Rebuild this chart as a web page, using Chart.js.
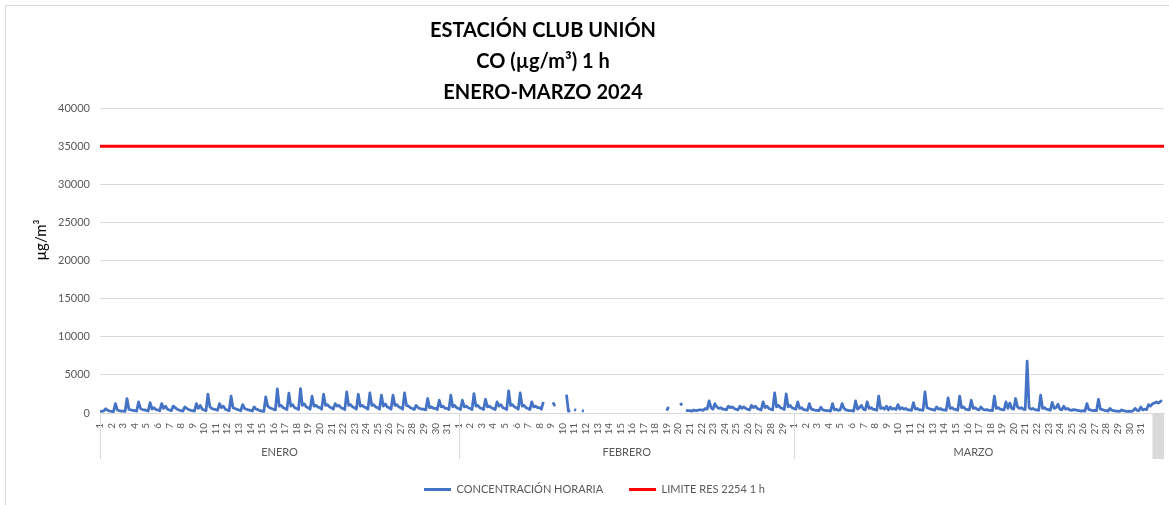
<!DOCTYPE html>
<html>
<head>
<meta charset="utf-8">
<script src="https://cdn.jsdelivr.net/npm/chart.js@4.4.1/dist/chart.umd.min.js"></script>
<style>
  html, body { margin: 0; padding: 0; background: #fff; }
</style>
</head>
<body>
<canvas id="grafico" width="1169" height="505"></canvas>
<script>
// --- TEXTOS ---
const TITULO = ['ESTACIÓN CLUB UNIÓN', 'CO (µg/m³) 1 h', 'ENERO-MARZO 2024'];
const TITULO_Y = 'µg/m³';
const MESES = ['ENERO', 'FEBRERO', 'MARZO'];
const DIAS_MES = [31, 29, 31];
const Y_TICKS = [0, 5000, 10000, 15000, 20000, 25000, 30000, 35000, 40000];
const LIMITE = 35000;

// lecturas cada 4 horas (0, 4, 8, 12, 16, 20 h) por dia
const HORAS = [0, 4, 8, 12, 16, 20];

const ENERO = [
  [250, 200, 300, 550, 350, 250],
  [200, 180, 1230, 400, 300, 250],
  [250, 200, 1900, 500, 400, 350],
  [300, 250, 1450, 600, 450, 400],
  [350, 250, 1360, 500, 700, 450],
  [400, 300, 1230, 600, 900, 500],
  [400, 300, 900, 700, 500, 400],
  [300, 250, 800, 600, 450, 350],
  [300, 250, 1230, 600, 1000, 500],
  [400, 300, 2460, 800, 600, 500],
  [450, 350, 1230, 700, 900, 500],
  [400, 300, 2200, 700, 600, 500],
  [400, 300, 1100, 600, 500, 400],
  [350, 250, 800, 500, 450, 300],
  [250, 200, 2110, 900, 700, 600],
  [500, 400, 3150, 900, 1000, 700],
  [600, 450, 2600, 900, 1100, 700],
  [600, 450, 3200, 1000, 1200, 800],
  [700, 500, 2200, 900, 1000, 800],
  [700, 500, 2460, 1000, 1100, 800],
  [700, 500, 1230, 900, 1000, 700],
  [600, 450, 2770, 1000, 1100, 800],
  [700, 500, 2460, 900, 1000, 800],
  [700, 500, 2640, 1000, 1100, 800],
  [700, 500, 2330, 900, 1200, 800],
  [700, 500, 2330, 1000, 1100, 800],
  [700, 500, 2640, 1000, 900, 700],
  [600, 450, 1000, 700, 600, 500],
  [500, 400, 1900, 700, 800, 600],
  [600, 450, 1670, 800, 900, 600],
  [600, 450, 2330, 800, 1000, 700]
];

const FEBRERO = [
  [600, 450, 1670, 800, 900, 700],
  [600, 450, 2550, 900, 1000, 700],
  [600, 450, 1800, 800, 900, 700],
  [600, 450, 1450, 900, 1100, 700],
  [600, 450, 2900, 1000, 1100, 800],
  [700, 500, 2640, 900, 1000, 700],
  [600, 450, 1450, 800, 900, 700],
  [700, 500, 1450, null, null, null],
  [null, 1400, 900, null, null, null],
  [null, null, 2420, 250, 300, null],
  [450, 350, null, null, 300, 250],
  [null, null, null, null, null, null],
  [null, null, null, null, null, null],
  [null, null, null, null, null, null],
  [null, null, null, null, null, null],
  [null, null, null, null, null, null],
  [null, null, null, null, null, null],
  [null, null, null, null, null, null],
  [300, 800, null, null, null, null],
  [null, 1300, 1000, null, 350, 300],
  [300, 250, 400, 300, 350, 400],
  [400, 350, 600, 500, 1600, 700],
  [500, 1230, 800, 600, 700, 500],
  [500, 400, 900, 700, 800, 600],
  [500, 400, 900, 600, 800, 600],
  [500, 400, 1000, 700, 900, 600],
  [500, 400, 1450, 700, 900, 600],
  [500, 400, 2640, 800, 1000, 700],
  [600, 450, 2500, 800, 1000, 700]
];

const MARZO = [
  [600, 500, 1450, 600, 700, 450],
  [400, 350, 1230, 500, 450, 350],
  [350, 300, 750, 400, 350, 300],
  [300, 250, 1230, 400, 500, 350],
  [400, 1230, 600, 400, 350, 300],
  [300, 250, 1580, 500, 700, 1000],
  [500, 400, 1450, 600, 700, 500],
  [450, 350, 2200, 600, 700, 500],
  [900, 400, 800, 500, 600, 450],
  [1100, 500, 700, 500, 600, 400],
  [400, 350, 1360, 500, 600, 400],
  [400, 350, 2770, 700, 600, 500],
  [450, 350, 800, 500, 600, 400],
  [400, 350, 1980, 600, 700, 500],
  [450, 350, 2200, 700, 800, 500],
  [450, 400, 1670, 600, 700, 500],
  [400, 800, 500, 400, 450, 350],
  [350, 300, 2200, 600, 700, 500],
  [450, 400, 1450, 600, 1300, 600],
  [500, 1900, 800, 600, 700, 500],
  [450, 6800, 700, 500, 600, 450],
  [400, 350, 2330, 600, 700, 500],
  [450, 350, 1400, 600, 700, 1140],
  [500, 400, 900, 500, 600, 400],
  [350, 440, 400, 350, 300, 250],
  [300, 250, 1230, 450, 400, 300],
  [350, 300, 1800, 500, 450, 350],
  [300, 250, 600, 350, 300, 250],
  [250, 200, 400, 300, 250, 200],
  [250, 200, 300, 600, 350, 300],
  [800, 400, 500, 450, 1100, 900]
];

// ultima fila de la hoja (despues del 31 de marzo)
const EXTRA = [
  [1200, 1300, 1450, 1300, 1500, 1650]
];

// --- ARMADO DE DATOS ---
const etiquetasDias = [];
DIAS_MES.forEach(n => { for (let d = 1; d <= n; d++) etiquetasDias.push(String(d)); });

const puntos = [];
let dia = 0;
[ENERO, FEBRERO, MARZO, EXTRA].forEach(mes => {
  mes.forEach(lecturas => {
    lecturas.forEach((v, i) => puntos.push({ x: dia + HORAS[i] / 24, y: v }));
    dia++;
  });
});
const totalDias = dia;
const diasConEtiqueta = etiquetasDias.length;

const FUENTE = "Lato, 'Open Sans', sans-serif";
const GRIS = '#d9d9d9';
const TEXTO = '#595959';

// borde, titulos y meses bajo el eje
const pluginExtras = {
  id: 'extras',
  beforeDraw(chart) {
    const ctx = chart.ctx;
    ctx.save();
    ctx.fillStyle = '#fff';
    ctx.fillRect(0, 0, chart.width, chart.height);
    ctx.strokeStyle = GRIS;
    ctx.lineWidth = 1;
    ctx.strokeRect(5.5, 5.5, chart.width + 20, chart.height + 20);
    ctx.restore();
  },
  afterDraw(chart) {
    const ctx = chart.ctx;
    const sx = chart.scales.x;
    const area = chart.chartArea;
    ctx.save();
    // titulo
    ctx.fillStyle = '#000';
    ctx.font = 'bold 20px ' + FUENTE;
    ctx.textAlign = 'center';
    ctx.textBaseline = 'middle';
    TITULO.forEach((t, i) => ctx.fillText(t, 543, 31 + i * 31));

    // titulo del eje y
    ctx.save();
    ctx.translate(41, 240);
    ctx.rotate(-Math.PI / 2);
    ctx.font = '15px ' + FUENTE;
    ctx.fillText(TITULO_Y, 0, 0);
    ctx.restore();

    // meses
    const y0 = area.bottom;
    const alto = 46;
    ctx.fillStyle = GRIS;
    const xa = sx.getPixelForValue(diasConEtiqueta);
    const xb = sx.getPixelForValue(totalDias);
    ctx.fillRect(xa, y0, xb - xa, alto);
    ctx.strokeStyle = GRIS;
    ctx.lineWidth = 1;
    ctx.font = '11px ' + FUENTE;
    ctx.fillStyle = TEXTO;
    let inicio = 0;
    MESES.forEach((mes, i) => {
      const x0 = Math.round(sx.getPixelForValue(inicio)) + 0.5;
      const x1 = sx.getPixelForValue(inicio + DIAS_MES[i]);
      ctx.beginPath();
      ctx.moveTo(x0, y0);
      ctx.lineTo(x0, y0 + alto);
      ctx.stroke();
      ctx.fillText(mes, (x0 + x1) / 2, y0 + 39);
      inicio += DIAS_MES[i];
    });
    ctx.restore();
  }
};

new Chart(document.getElementById('grafico'), {
  type: 'line',
  data: {
    datasets: [
      {
        label: 'CONCENTRACIÓN HORARIA',
        data: puntos,
        borderColor: '#4472C4',
        backgroundColor: '#4472C4',
        borderWidth: 2.75,
        pointRadius: 0,
        tension: 0,
        spanGaps: false,
        borderJoinStyle: 'round'
      },
      {
        label: 'LIMITE RES 2254 1 h',
        data: [{ x: 0, y: LIMITE }, { x: totalDias, y: LIMITE }],
        borderColor: '#FF0000',
        backgroundColor: '#FF0000',
        borderWidth: 3,
        pointRadius: 0
      }
    ]
  },
  options: {
    responsive: false,
    animation: false,
    devicePixelRatio: 1,
    layout: { padding: { top: 108, left: 25, right: 5, bottom: 0 } },
    plugins: {
      title: { display: false },
      tooltip: { enabled: false },
      legend: {
        position: 'bottom',
        labels: {
          font: { family: FUENTE, size: 11 },
          color: TEXTO,
          boxWidth: 27,
          boxHeight: 3,
          padding: 26,
          generateLabels: (chart) => Chart.defaults.plugins.legend.labels.generateLabels(chart)
            .map(l => ({ ...l, lineWidth: 0, fillStyle: l.strokeStyle }))
        }
      }
    },
    scales: {
      x: {
        type: 'linear',
        min: 0,
        max: totalDias,
        afterFit: (s) => { s.height = 45; },
        afterBuildTicks: (s) => { s.ticks = etiquetasDias.map((_, i) => ({ value: i })); },
        grid: { display: false },
        border: { display: true, color: GRIS },
        ticks: {
          autoSkip: false,
          maxRotation: 90,
          minRotation: 90,
          padding: 2,
          font: { family: FUENTE, size: 10 },
          color: TEXTO,
          callback: (v) => etiquetasDias[v] ?? ''
        }
      },
      y: {
        min: 0,
        max: 40000,
        afterFit: (s) => { s.width = 75; },
        afterBuildTicks: (s) => { s.ticks = Y_TICKS.map(v => ({ value: v })); },
        grid: { color: GRIS, drawTicks: false },
        border: { display: false },
        ticks: {
          padding: 10,
          font: { family: FUENTE, size: 11 },
          color: TEXTO,
          callback: (v) => String(v)
        },
        title: { display: false }
      }
    }
  },
  plugins: [pluginExtras]
});
</script>
</body>
</html>
